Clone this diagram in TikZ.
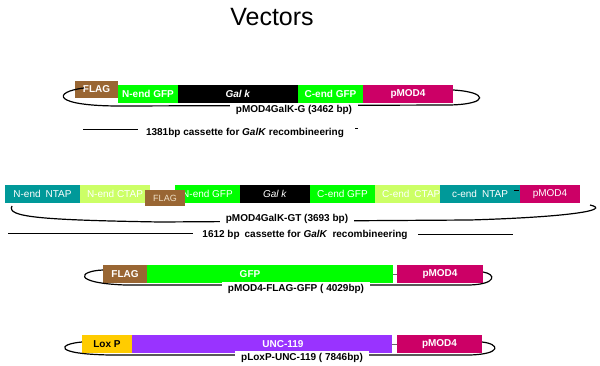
\documentclass[tikz,border=0pt]{standalone}
\usepackage{fontspec}
\setmainfont{Liberation Sans}
\usetikzlibrary{calc}
\definecolor{flagbrown}{RGB}{153,102,51}
\definecolor{gfpgreen}{RGB}{0,255,0}
\definecolor{pmodmag}{RGB}{204,0,102}
\definecolor{tapteal}{RGB}{0,153,153}
\definecolor{taplight}{RGB}{204,255,102}
\definecolor{uncpurple}{RGB}{153,51,255}
\definecolor{loxgold}{RGB}{255,204,0}
\definecolor{flagtext}{RGB}{240,225,200}
\tikzset{
  seg/.style={anchor=north west, inner sep=0pt, outer sep=0pt, minimum height=18pt,
    text=white, font=\bfseries\fontsize{10}{12}\selectfont},
  segthin/.style={seg, font=\fontsize{10}{12}\selectfont},
  plasmid/.style={line width=1.2pt, black},
  namebox/.style={fill=white, inner xsep=6pt, inner ysep=2pt, text=black,
    font=\bfseries\fontsize{10}{12}\selectfont},
  cassette/.style={text=black, font=\bfseries\fontsize{10}{12}\selectfont},
  cline/.style={line width=1pt, black},
  linker/.style={line width=0.6pt, black!60}
}
\begin{document}
\begin{tikzpicture}[x=1pt, y=-1pt]
\useasboundingbox (0,0) rectangle (600,366);
% title
\node[font=\fontsize{25}{30}\selectfont] (title) at (272,17) {Vectors};

% ---------- row 1 ----------
\node[seg, fill=flagbrown, minimum width=43pt, minimum height=17pt] (flagA) at (75,81) {FLAG};
\node[seg, fill=gfpgreen, minimum width=60pt] (ngfpA) at (118,85) {N-end GFP};
\node[seg, fill=black, minimum width=120pt] (galkA) at (178,85) {\textit{Gal k}};
\node[seg, fill=gfpgreen, minimum width=65pt] (cgfpA) at (298,85) {C-end GFP};
\node[seg, fill=pmodmag, minimum width=90pt] (pmodA) at (363,85) {pMOD4};
\coordinate (sA) at (84,88);
\coordinate (eA) at (453,90);
\draw[plasmid] (sA) .. controls (52,92) and (52,106) .. (120,106) -- (450,105)
  .. controls (490,104) and (488,92) .. (eA);
\node[namebox] (labA) at (294,110) {pMOD4GalK-G (3462 bp)};
\node[cassette] (casA) at (245,133) {1381bp cassette for \textit{GalK} recombineering};
\coordinate (cA1) at (83,130);
\coordinate (cA2) at (138,130);
\draw[cline] (cA1) -- (cA2);
\coordinate (dA1) at (355,129);
\coordinate (dA2) at (358,129);
\draw[cline] (dA1) -- (dA2);

% ---------- row 2 ----------
\node[segthin, fill=tapteal, minimum width=75pt] (ntapL) at (5,185) {N-end\enspace NTAP};
\node[segthin, fill=taplight, minimum width=70pt] (ctapL) at (80,185) {N-end CTAP};
\node[segthin, fill=gfpgreen, minimum width=65pt] (ngfpB) at (175,185) {N-end GFP};
\node[segthin, fill=flagbrown, minimum width=40pt, minimum height=16pt,
  text=flagtext, font=\fontsize{9}{11}\selectfont] (flagB) at (145,190) {FLAG};
\node[segthin, fill=black, minimum width=70pt] (galkB) at (240,185) {\textit{Gal k}};
\node[segthin, fill=gfpgreen, minimum width=65pt] (cgfpB) at (310,185) {C-end GFP};
\node[segthin, fill=taplight, minimum width=65pt] (ctapR) at (375,185) {};
\node[anchor=west, inner sep=0pt, text=white, font=\fontsize{10}{12}\selectfont]
  (ctapRt) at ($(ctapR.west)+(7,0)$) {C-end\enspace CTAP};
\node[segthin, fill=tapteal, minimum width=80pt] (ntapR) at (440,185) {c-end\enspace NTAP};
\node[segthin, fill=pmodmag, minimum width=60pt] (pmodB) at (520,185) {pMOD4};
\coordinate (dB1) at (514,190);
\coordinate (dB2) at (519,190);
\draw[line width=0.6pt, black] (dB1) -- (dB2);
\coordinate (sB) at (12,206);
\coordinate (eB) at (590,205);
\draw[plasmid] (sB) .. controls (6,217) and (40,220) .. (160,222) -- (470,220)
  .. controls (570,217) and (612,210) .. (eB);
\node[namebox] (labB) at (287,219) {pMOD4GalK-GT (3693 bp)};
\node[cassette] (casB) at (305,235) {1612 bp\enspace cassette for \textit{GalK}\enspace recombineering};
\coordinate (cB1) at (8,234);
\coordinate (cB2) at (193,234);
\coordinate (cB3) at (418,235);
\coordinate (cB4) at (513,235);
\draw[cline] (cB1) -- (cB2);
\draw[cline] (cB3) -- (cB4);

% ---------- row 3 ----------
\node[seg, fill=flagbrown, minimum width=44pt] (flagC) at (103,265) {FLAG};
\node[seg, fill=gfpgreen, minimum width=246pt] (gfpC) at (147,265) {};
\node[inner sep=0pt, text=white, font=\bfseries\fontsize{10}{12}\selectfont] (gfpCt) at (250,274) {GFP};
\node[seg, fill=pmodmag, minimum width=86pt] (pmodC) at (397,265) {pMOD4};
\draw[linker] (gfpC.east) -- (pmodC.west);
\coordinate (sC) at (103,270);
\coordinate (eC) at (483,272);
\draw[plasmid] (sC) .. controls (78,271) and (72,283) .. (125,285) -- (470,285)
  .. controls (497,284) and (496,274) .. (eC);
\node[namebox] (labC) at (296,289) {pMOD4-FLAG-GFP ( 4029bp)};

% ---------- row 4 ----------
\node[seg, fill=loxgold, minimum width=50pt, text=black] (loxD) at (82,335) {Lox P};
\node[seg, fill=uncpurple, minimum width=260pt] (uncD) at (132,335) {};
\node[inner sep=0pt, text=white, font=\bfseries\fontsize{10}{12}\selectfont] (uncDt) at (283,344) {UNC-119};
\node[seg, fill=pmodmag, minimum width=85pt] (pmodD) at (397,335) {pMOD4};
\draw[linker] (uncD.east) -- (pmodD.west);
\coordinate (sD) at (82,342);
\coordinate (eD) at (482,342);
\draw[plasmid] (sD) .. controls (58,344) and (52,354) .. (110,355) -- (470,355)
  .. controls (502,354) and (500,344) .. (eD);
\node[namebox] (labD) at (302,358) {pLoxP-UNC-119 ( 7846bp)};
\end{tikzpicture}
\end{document}
